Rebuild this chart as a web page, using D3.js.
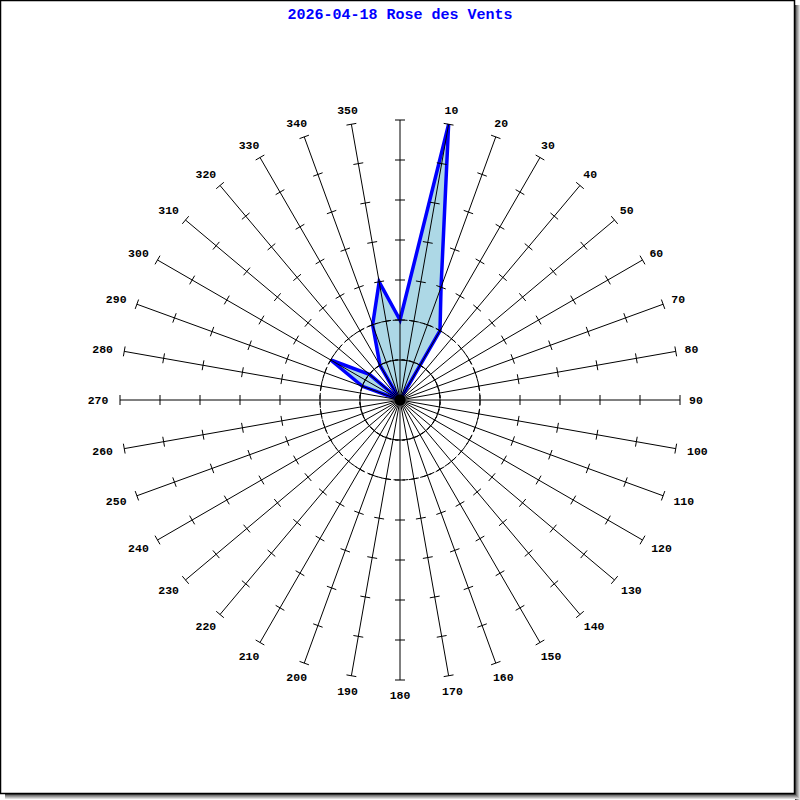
<!DOCTYPE html>
<html>
<head>
<meta charset="utf-8">
<script src="https://cdn.jsdelivr.net/npm/d3@7"></script>
<style>
  body { margin: 0; background: #fff; }
  svg { display: block; }
</style>
</head>
<body>
<div id="chart"></div>
<script>
var title = "2026-04-18 Rose des Vents";
var directions = d3.range(0, 360, 10);
var values = [2, 7, 3, 2, 0, 0, 0, 0, 0, 0, 0, 0, 0, 0, 0, 0, 0, 0,
              0, 0, 0, 0, 0, 0, 0, 0, 0, 0, 0, 1, 2, 1, 0, 1, 2, 3];
var maxValue = 7;
var tickValues = [1, 2, 3, 4, 5, 6, 7];
var circleValues = [1, 2];

var width = 800, height = 800;
var cx = 400, cy = 400;

var svg = d3.select("#chart").append("svg").attr("width", width).attr("height", height);

// frame with shadow
var shadow = ["#444", "#777", "#999", "#bbb", "#ddd"];
shadow.forEach(function(c, i) {
	svg.append("line").attr("x1", 795 + i + 0.5).attr("x2", 795 + i + 0.5)
		.attr("y1", 5).attr("y2", 800).attr("stroke", c);
	svg.append("line").attr("y1", 794 + i + 0.5).attr("y2", 794 + i + 0.5)
		.attr("x1", 5).attr("x2", 800).attr("stroke", c);
});
svg.append("rect").attr("x", 0.5).attr("y", 0.5).attr("width", 794).attr("height", 793)
	.attr("fill", "#fff").attr("stroke", "#000").attr("stroke-width", 1.5);

svg.append("text")
	.attr("x", 400).attr("y", 19)
	.attr("text-anchor", "middle")
	.style("font-family", "'Liberation Mono', 'DejaVu Sans Mono', monospace")
	.style("font-weight", "bold")
	.style("font-size", "15px")
	.attr("fill", "#0000ff")
	.text(title);

var r = d3.scaleLinear().domain([0, maxValue]).range([0, 280]);
var ang = d3.scaleLinear().domain([0, 360]).range([0, 2 * Math.PI]);

var g = svg.append("g").attr("transform", "translate(" + cx + "," + cy + ")");

function px(d, v) { return r(v) * Math.sin(ang(d)); }
function py(d, v) { return -r(v) * Math.cos(ang(d)); }

// wind polygon
var pts = directions.map(function(d, i) { return [px(d, values[i]), py(d, values[i])]; });
g.append("path")
	.attr("d", d3.line().curve(d3.curveLinearClosed)(pts))
	.attr("fill", "#add8e6")
	.attr("stroke", "#0000ff")
	.attr("stroke-width", 3.5)
	.attr("stroke-linejoin", "miter");

// dashed circles
g.selectAll("circle.ring")
	.data(circleValues)
	.enter().append("circle")
		.attr("class", "ring")
		.attr("r", function(d) { return r(d); })
		.attr("fill", "none")
		.attr("stroke", "#000")
		.attr("stroke-dasharray", "6,3");

// spokes
g.selectAll("line.spoke")
	.data(directions)
	.enter().append("line")
		.attr("class", "spoke")
		.attr("x1", 0).attr("y1", 0)
		.attr("x2", function(d) { return px(d, maxValue); })
		.attr("y2", function(d) { return py(d, maxValue); })
		.attr("stroke", "#000");

// ticks on spokes
directions.forEach(function(d) {
	var a = ang(d);
	var ux = Math.cos(a) * 5, uy = Math.sin(a) * 5;
	g.selectAll(null)
		.data(tickValues)
		.enter().append("line")
			.attr("x1", function(v) { return px(d, v) - ux; })
			.attr("y1", function(v) { return py(d, v) - uy; })
			.attr("x2", function(v) { return px(d, v) + ux; })
			.attr("y2", function(v) { return py(d, v) + uy; })
			.attr("stroke", "#000");
});

g.append("circle").attr("r", 5.5).attr("fill", "#000");

// direction labels (longer labels pushed further out sideways)
g.selectAll("text.lab")
	.data(directions.filter(function(d) { return d > 0; }))
	.enter().append("text")
		.attr("class", "lab")
		.attr("x", function(d) {
			var s = Math.sin(ang(d));
			return 296 * s + (String(d).length - 2) * 6 * s;
		})
		.attr("y", function(d) { return -295 * Math.cos(ang(d)); })
		.attr("dy", "0.35em")
		.attr("text-anchor", "middle")
		.style("font-family", "'Liberation Mono', 'DejaVu Sans Mono', monospace")
		.style("font-weight", "bold")
		.style("font-size", "11.5px")
		.attr("fill", "#000")
		.text(function(d) { return d; });
</script>
</body>
</html>
